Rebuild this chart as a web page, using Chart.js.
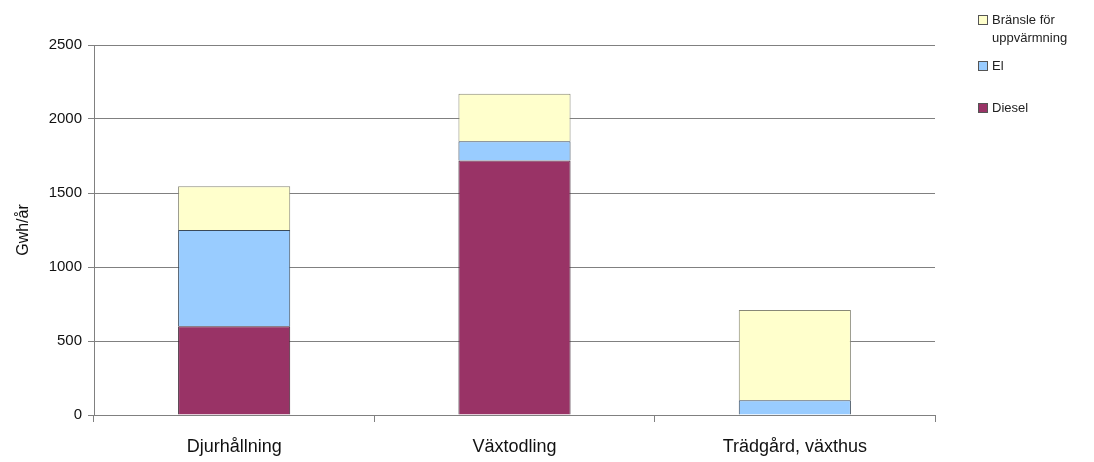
<!DOCTYPE html>
<html><head><meta charset="utf-8">
<script src="https://cdn.jsdelivr.net/npm/chart.js@4"></script>
<style>html,body{margin:0;padding:0;background:#fff;}canvas{display:block;}</style>
</head><body>
<canvas id="c" width="1094" height="462" style="width:1094px;height:462px"></canvas>
<script>
const categories = ['Djurhållning', 'Växtodling', 'Trädgård, växthus'];
const diesel = [600, 1720, 0];
const el = [650, 130, 100];
const bransle = [295, 320, 610];
const yTicks = [0, 500, 1000, 1500, 2000, 2500];
const yTitle = 'Gwh/år';

const legendPlugin = {
  id: 'sideLegend',
  afterDraw(chart) {
    const ctx = chart.ctx;
    const items = [
      {ds: 2, lines: ['Bränsle för', 'uppvärmning'], y: 20},
      {ds: 1, lines: ['El'], y: 66},
      {ds: 0, lines: ['Diesel'], y: 108}
    ];
    ctx.save();
    ctx.font = '13px "Liberation Sans", Arial, sans-serif';
    ctx.textBaseline = 'middle';
    items.forEach(it => {
      const d = chart.data.datasets[it.ds];
      ctx.fillStyle = d.backgroundColor;
      ctx.fillRect(978.5, it.y - 4.5, 9, 9);
      ctx.strokeStyle = '#555';
      ctx.lineWidth = 1;
      ctx.strokeRect(978.5, it.y - 4.5, 9, 9);
      ctx.fillStyle = '#222';
      it.lines.forEach((t, i) => ctx.fillText(t, 992, it.y + i * 18));
    });
    ctx.restore();
  }
};

new Chart(document.getElementById('c'), {
  type: 'bar',
  data: {
    labels: categories,
    datasets: [
      {label: 'Diesel', data: diesel, backgroundColor: '#993366', borderColor: '#3a2030', borderWidth: 1},
      {label: 'El', data: el, backgroundColor: '#99CCFF', borderColor: '#3a4a5a', borderWidth: 1},
      {label: 'Bränsle för uppvärmning', data: bransle, backgroundColor: '#FFFFCC', borderColor: '#888877', borderWidth: 1}
    ]
  },
  options: {
    responsive: false,
    animation: false,
    layout: {padding: {left: 14, right: 159, top: 45, bottom: 0}},
    datasets: {bar: {categoryPercentage: 1.0, barPercentage: 0.4}},
    plugins: {legend: {display: false}, tooltip: {enabled: false}},
    scales: {
      x: {
        stacked: true,
        offset: true,
        grid: {offset: true, drawOnChartArea: false, drawTicks: true, tickLength: 7, color: '#808080'},
        border: {color: '#808080'},
        ticks: {color: '#111', font: {family: '"Liberation Sans", Arial, sans-serif', size: 18}, padding: 14},
        afterFit(s) { s.height = 47; }
      },
      y: {
        stacked: true,
        min: 0, max: 2500,
        afterBuildTicks(s) { s.ticks = yTicks.map(v => ({value: v})); },
        grid: {color: '#808080', tickLength: 6},
        border: {color: '#808080'},
        ticks: {color: '#111', font: {family: '"Liberation Sans", Arial, sans-serif', size: 15}, padding: 6,
                callback: v => String(v)},
        title: {display: true, text: yTitle, color: '#111', font: {family: '"Liberation Sans", Arial, sans-serif', size: 16}, padding: 0},
        afterFit(s) { s.width = 80; }
      }
    }
  },
  plugins: [legendPlugin]
});
</script>
</body></html>
